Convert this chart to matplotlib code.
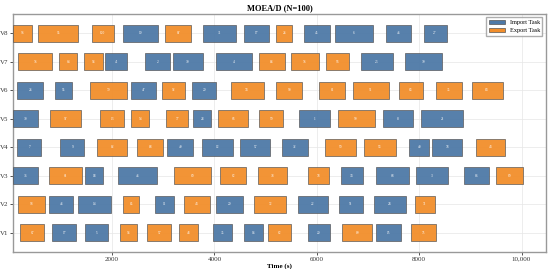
import matplotlib
matplotlib.use('Agg')
import matplotlib.pyplot as plt
from matplotlib.patches import Patch

plt.rcParams['font.family'] = ['Liberation Serif', 'DejaVu Serif']

vehicles = ['V1', 'V2', 'V3', 'V4', 'V5', 'V6', 'V7', 'V8']

# each task: (start, duration, type, task id)   type: 'I' import, 'E' export
tasks = {
    'V8': [(65, 370, 'E', 96), (560, 780, 'E', 95), (1600, 430, 'E', 100), (2220, 685, 'I', 19),
           (3040, 510, 'E', 87), (3785, 645, 'I', 31), (4570, 490, 'I', 17), (5210, 315, 'E', 26),
           (5760, 490, 'I', 45), (6365, 725, 'I', 6), (7360, 490, 'I', 46), (8085, 450, 'I', 27)],
    'V7': [(170, 665, 'E', 76), (970, 350, 'E', 64), (1460, 370, 'E', 93), (1870, 430, 'I', 41),
           (2650, 490, 'I', 2), (3200, 570, 'I', 30), (4040, 685, 'I', 4), (4880, 490, 'E', 83),
           (5505, 530, 'E', 76), (6190, 430, 'E', 56), (6855, 625, 'I', 23), (7715, 725, 'I', 39)],
    'V6': [(150, 510, 'I', 26), (890, 330, 'I', 55), (1575, 725, 'E', 79), (2380, 470, 'I', 47),
           (2985, 450, 'E', 92), (3570, 470, 'I', 29), (4315, 645, 'E', 74), (5210, 510, 'E', 90),
           (6050, 510, 'E', 81), (6700, 705, 'E', 91), (7600, 470, 'E', 63), (8320, 510, 'E', 35),
           (9025, 605, 'E', 84)],
    'V5': [(70, 490, 'I', 30), (795, 605, 'E', 97), (1770, 470, 'E', 13), (2380, 350, 'E', 54),
           (3060, 430, 'E', 77), (3590, 350, 'I', 28), (4080, 585, 'E', 66), (4880, 470, 'E', 59),
           (5660, 605, 'I', 1), (6405, 725, 'E', 99), (7285, 585, 'I', 8), (8045, 820, 'I', 21)],
    'V4': [(150, 470, 'I', 7), (990, 470, 'I', 9), (1710, 585, 'E', 82), (2495, 510, 'E', 88),
           (3080, 510, 'I', 49), (3765, 605, 'I', 12), (4510, 585, 'I', 57), (5330, 490, 'I', 32),
           (6170, 605, 'E', 50), (6915, 625, 'E', 53), (7810, 390, 'I', 40), (8260, 585, 'I', 78),
           (9120, 565, 'E', 44)],
    'V3': [(70, 490, 'I', 36), (775, 645, 'E', 61), (1480, 350, 'I', 18), (2125, 745, 'I', 46),
           (3220, 705, 'E', 60), (4115, 510, 'E', 62), (4860, 565, 'E', 38), (5820, 410, 'E', 78),
           (6465, 430, 'I', 34), (7150, 645, 'I', 68), (7930, 625, 'I', 3), (8870, 490, 'I', 86),
           (9495, 530, 'E', 69)],
    'V2': [(170, 525, 'E', 98), (775, 470, 'I', 43), (1340, 645, 'I', 14), (2220, 315, 'E', 85),
           (2845, 370, 'I', 11), (3415, 490, 'E', 44), (4040, 510, 'I', 29), (4780, 625, 'E', 72),
           (5625, 585, 'I', 22), (6425, 470, 'I', 51), (7110, 625, 'I', 24), (7910, 390, 'E', 71)],
    'V1': [(210, 470, 'E', 67), (835, 470, 'I', 17), (1480, 450, 'I', 5), (2160, 330, 'E', 93),
           (2690, 470, 'E', 57), (3315, 370, 'E', 48), (3980, 370, 'I', 35), (4570, 370, 'I', 16),
           (5055, 450, 'E', 62), (5820, 430, 'I', 20), (6500, 585, 'E', 89), (7150, 490, 'I', 15),
           (7850, 470, 'E', 75)],
}

colors = {'I': '#4e79a7', 'E': '#f28e2b'}

fig = plt.figure(figsize=(5.5, 2.69), dpi=100)
ax = fig.add_axes([0.024, 0.064, 0.968, 0.884])

for i, v in enumerate(vehicles):
    for start, dur, kind, tid in tasks[v]:
        ax.barh(i, dur, left=start, height=0.6, color=colors[kind],
                edgecolor='#555555', linewidth=0.5, alpha=0.95, zorder=3)
        ax.text(start + dur / 2, i, str(tid), ha='center', va='center',
                fontsize=2.5, color='white', zorder=4)

ax.set_yticks(range(len(vehicles)))
ax.set_yticklabels(vehicles, fontsize=5)
ax.set_ylim(-0.67, 7.67)
ax.set_xlim(70, 10470)
ax.set_xticks([2000, 4000, 6000, 8000, 10000])
ax.set_xticklabels(['2000', '4000', '6000', '8000', '10,000'], fontsize=5)
ax.tick_params(length=2, width=0.6, pad=1.5, colors='#333333')
ax.set_xlabel('Time (s)', fontsize=5, fontweight='bold', labelpad=1)
ax.set_title('MOEA/D (N=100)', fontsize=6, fontweight='bold', pad=3)
ax.grid(True, color='#e6e6e6', linewidth=0.5, zorder=0)
for s in ax.spines.values():
    s.set_color('#999999')
    s.set_linewidth(1.0)

handles = [Patch(facecolor=colors['I'], edgecolor='#555555', linewidth=0.5, label='Import Task'),
           Patch(facecolor=colors['E'], edgecolor='#555555', linewidth=0.5, label='Export Task')]
ax.legend(handles=handles, loc='upper right', fontsize=4.5, frameon=True,
          edgecolor='#999999', fancybox=False, borderpad=0.4, handlelength=2.5)

plt.savefig('out.png', dpi=100)
